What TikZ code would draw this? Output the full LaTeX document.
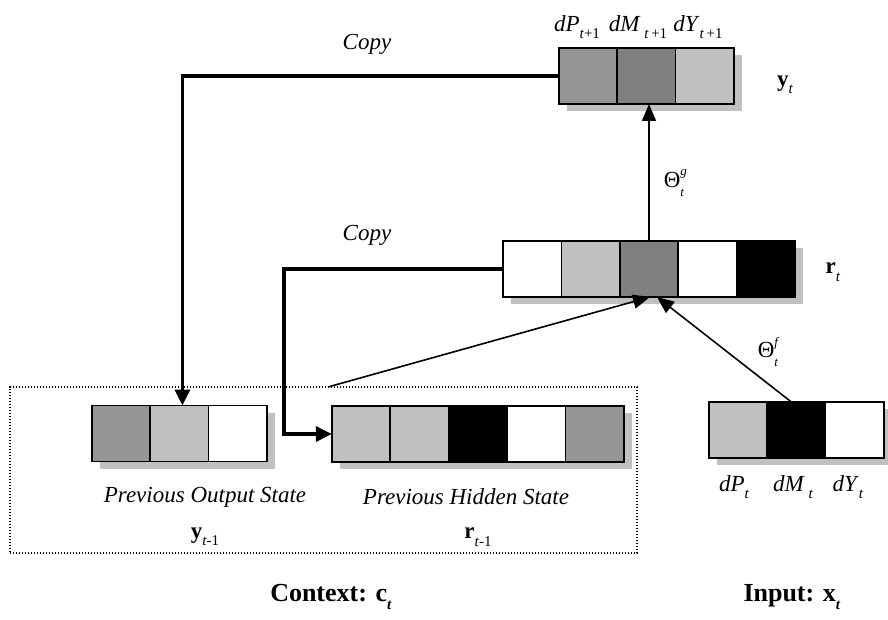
\documentclass[tikz,border=0pt]{standalone}
\usepackage{fontspec}
\setmainfont{Liberation Serif}
\usetikzlibrary{arrows.meta}
\pgfdeclarelayer{shadowlayer}
\pgfsetlayers{shadowlayer,main}

\definecolor{cellmid}{RGB}{150,150,150}
\definecolor{celldark}{RGB}{128,128,128}
\definecolor{celllight}{RGB}{192,192,192}

% lowered index, e.g. the t in y_t
\newcommand{\lowidx}[1]{\raisebox{-0.32em}{\fontsize{15}{15}\selectfont #1}}
% weight label Theta with superscript and subscript t
\newcommand{\thetalbl}[1]{Θ\rlap{\raisebox{0.5em}{\fontsize{13}{13}\selectfont\textit{#1}}}\raisebox{-0.38em}{\fontsize{13}{13}\selectfont\textit{t}}}

\tikzset{
  cell/.style={draw, line width=1.6pt, minimum width=58.4pt, minimum height=56pt,
               inner sep=0pt, outer sep=0pt},
  shadowfill/.style={fill=celllight},
  copyline/.style={line width=3.4pt, -{Triangle[width=15pt,length=16pt]}},
  weightline/.style={line width=1.6pt, -{Triangle[width=14pt,length=17pt]}},
  lbl/.style={inner sep=0pt, font=\fontsize{23}{27}\selectfont},
  itlbl/.style={lbl, font=\fontsize{23}{27}\selectfont\itshape},
  boldlbl/.style={inner sep=0pt, font=\fontsize{26}{30}\selectfont\bfseries},
  ctxbox/.style={draw, line width=1.3pt, dash pattern=on 1.3pt off 1.7pt,
                 minimum width=627pt, minimum height=166pt, inner sep=0pt},
}

\begin{document}
\begin{tikzpicture}[x=1pt, y=-1pt]
\useasboundingbox (0,0) rectangle (888,620);

% context frame
\node[ctxbox] (ctx) at (323.5,470) {};

% output vector y_t
\node[cell, fill=cellmid]   (yt1) at (588,76) {};
\node[cell, fill=celldark]  (yt2) at (646.4,76) {};
\node[cell, fill=celllight] (yt3) at (704.8,76) {};

% hidden vector r_t
\node[cell, fill=white]     (rt1) at (532.2,269) {};
\node[cell, fill=celllight] (rt2) at (590.6,269) {};
\node[cell, fill=celldark]  (rt3) at (649,269) {};
\node[cell, fill=white]     (rt4) at (707.4,269) {};
\node[cell, fill=black]     (rt5) at (765.8,269) {};

% input vector x_t
\node[cell, fill=celllight] (xt1) at (738,430) {};
\node[cell, fill=black]     (xt2) at (796.4,430) {};
\node[cell, fill=white]     (xt3) at (854.8,430) {};

% previous output y_{t-1}
\node[cell, fill=cellmid]   (yp1) at (121,433.5) {};
\node[cell, fill=celllight] (yp2) at (179.4,433.5) {};
\node[cell, fill=white]     (yp3) at (237.8,433.5) {};

% previous hidden r_{t-1}
\node[cell, fill=celllight] (rp1) at (361,434) {};
\node[cell, fill=celllight] (rp2) at (419.4,434) {};
\node[cell, fill=black]     (rp3) at (477.8,434) {};
\node[cell, fill=white]     (rp4) at (536.2,434) {};
\node[cell, fill=cellmid]   (rp5) at (594.6,434) {};

% drop shadows behind each vector
\begin{pgfonlayer}{shadowlayer}
  \foreach \a/\b in {yt1/yt3, rt1/rt5, xt1/xt3, yp1/yp3, rp1/rp5}
    \fill[shadowfill] ([shift={(8pt,-7pt)}]\a.north west) rectangle ([shift={(8pt,-7pt)}]\b.south east);
\end{pgfonlayer}

% copy connections
\coordinate (hidturn) at (284,350);
\draw[copyline] (yt1.west) -| ([xshift=3pt]yp2.north);
\draw[copyline] (rt1.west) -- (rt1.west -| hidturn) |- (rp1.west);

% weighted connections
\coordinate (ctxfrom) at (328,387);
\draw[weightline] (rt3.north) -- (rt3.north |- yt2.south);
\draw[weightline] (ctxfrom) -- ([xshift=1pt]rt3.south);
\draw[weightline] ([xshift=-5pt]xt2.north) -- ([xshift=8pt]rt3.south);

% labels
\node[itlbl] (copy1) at (367,44) {Copy};
\node[itlbl] (copy2) at (367,235) {Copy};
\node[lbl] (ldp) at (577,27) {\textit{dP}\lowidx{\textit{t}+1}};
\node[lbl] (ldm) at (638,27) {\textit{dM}\,\lowidx{\textit{t}\,+1}};
\node[lbl] (ldy) at (698,27) {\textit{dY}\lowidx{\textit{t}\,+1}};
\node[lbl] (lyt) at (785,85) {\textbf{y}\lowidx{\textit{t}}};
\node[lbl] (lthg) at (674,183) {\thetalbl{g}};
\node[lbl] (lrt) at (833,272) {\textbf{r}\lowidx{\textit{t}}};
\node[lbl] (lthf) at (768,352) {\thetalbl{f}};
\node[itlbl] (lpos) at (205,497) {Previous Output State};
\node[itlbl] (lphs) at (466,497) {Previous Hidden State};
\node[lbl] (lyp) at (205,537) {\textbf{y}\lowidx{\textit{t}-1}};
\node[lbl] (lrp) at (478,537) {\textbf{r}\lowidx{\textit{t}-1}};
\node[lbl] (lxp) at (734,487) {\textit{dP}\lowidx{\textit{t}}};
\node[lbl] (lxm) at (793,487) {\textit{dM}\,\lowidx{\textit{t}}};
\node[lbl] (lxy) at (848,487) {\textit{dY}\lowidx{\textit{t}}};
\node[boldlbl] (lctx) at (331,597) {Context: c\lowidx{\textit{t}}};
\node[boldlbl] (linp) at (792,597) {Input: x\lowidx{\textit{t}}};
\end{tikzpicture}
\end{document}
